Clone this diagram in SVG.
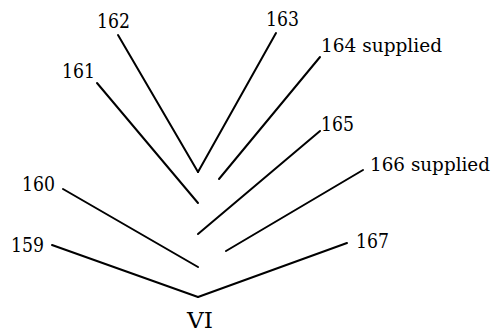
<svg xmlns="http://www.w3.org/2000/svg" width="495" height="332" viewBox="0 0 495 332">
<style>
#connectors line{stroke:#000;stroke-width:2;stroke-linecap:round}
.t{font-family:'DejaVu Serif','Liberation Serif',serif;font-size:20.5px;fill:#000}
.s{font-size:19px}
.vi{font-size:22px}
</style>
<rect width="495" height="332" fill="#fff"/>
<g id="connectors">
<line x1="118" y1="35" x2="198" y2="172"/>
<line x1="276" y1="33" x2="198" y2="172"/>
<line x1="97" y1="83" x2="198" y2="203"/>
<line x1="320" y1="57" x2="219" y2="179"/>
<line x1="320" y1="131" x2="198" y2="234"/>
<line x1="363" y1="170" x2="226" y2="251"/>
<line x1="63" y1="189" x2="198" y2="267"/>
<line x1="52" y1="245" x2="198" y2="297"/>
<line x1="347" y1="243" x2="198" y2="297"/>
</g>
<g id="n159"><text class="t" x="11" y="252" textLength="33" lengthAdjust="spacingAndGlyphs">159</text></g>
<g id="n160"><text class="t" x="22" y="191" textLength="33" lengthAdjust="spacingAndGlyphs">160</text></g>
<g id="n161"><text class="t" x="62" y="78" textLength="33" lengthAdjust="spacingAndGlyphs">161</text></g>
<g id="n162"><text class="t" x="97" y="28" textLength="33" lengthAdjust="spacingAndGlyphs">162</text></g>
<g id="n163"><text class="t" x="266" y="26" textLength="33" lengthAdjust="spacingAndGlyphs">163</text></g>
<g id="n164"><text class="t s" x="321" y="52" textLength="121" lengthAdjust="spacingAndGlyphs">164 supplied</text></g>
<g id="n165"><text class="t" x="321" y="131" textLength="33" lengthAdjust="spacingAndGlyphs">165</text></g>
<g id="n166"><text class="t s" x="370" y="171" textLength="120" lengthAdjust="spacingAndGlyphs">166 supplied</text></g>
<g id="n167"><text class="t" x="356" y="248" textLength="33" lengthAdjust="spacingAndGlyphs">167</text></g>
<g id="nVI"><text class="t vi" x="187" y="327.5" textLength="26" lengthAdjust="spacingAndGlyphs">VI</text></g>
</svg>
